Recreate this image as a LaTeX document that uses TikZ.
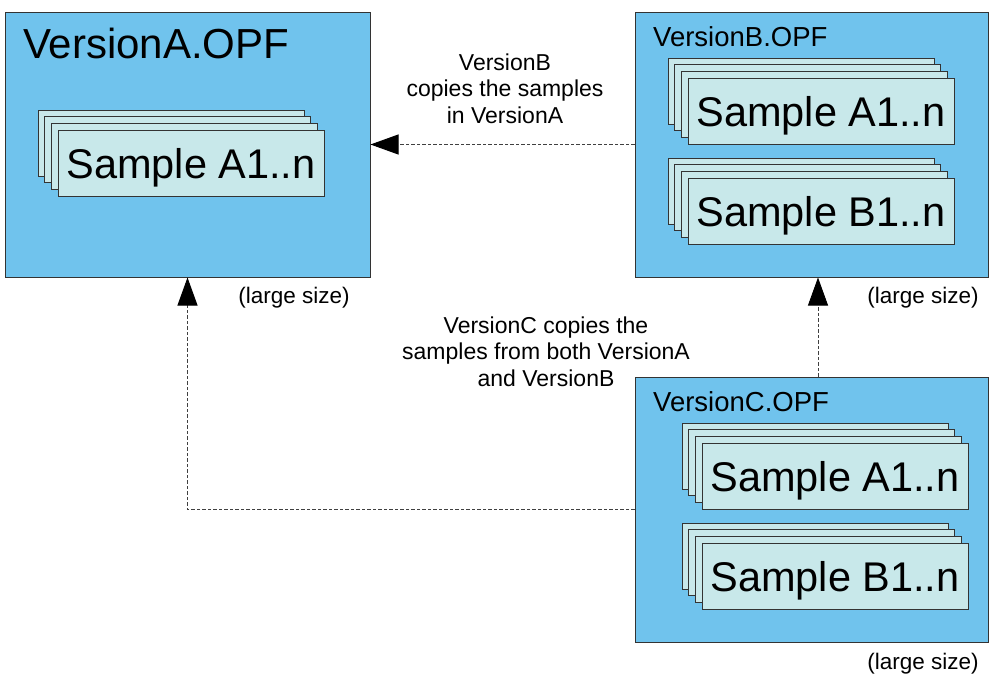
\documentclass[tikz,border=0pt]{standalone}
\usepackage{fontspec}
\setmainfont{Liberation Sans}
\usetikzlibrary{arrows.meta}
\definecolor{opfblue}{RGB}{112,195,237}
\definecolor{samplecyan}{RGB}{200,232,234}
\begin{document}
\begin{tikzpicture}[x=1pt,y=-1pt,
    opf/.style={draw=black!80,fill=opfblue,line width=1pt,minimum width=#1,minimum height=265pt,inner sep=0pt},
    card/.style={draw=black!80,fill=samplecyan,line width=0.8pt},
    samplecard/.style={card,minimum width=266pt,minimum height=66pt,inner sep=0pt,text depth=0pt,font=\fontsize{41.5}{41.5}\selectfont},
    note/.style={align=center,inner sep=0pt,font=\fontsize{23}{26.5}\selectfont},
    copy/.style={draw=black!75,dash pattern=on 3.5pt off 2pt,line width=0.9pt,-{Triangle[length=28pt,width=20pt,color=black]}}]
  \useasboundingbox (0,0) rectangle (989,675);
  % the three OPF files
  \node[opf=365pt] (verA) at (187.5,144.5) {};
  \node[opf=353pt] (verB) at (811.5,144.5) {};
  \node[opf=353pt] (verC) at (811.5,509.5) {};
  \node[anchor=base west,inner sep=0pt,font=\fontsize{42}{42}\selectfont] (titleA) at (23,58) {VersionA.OPF};
  \node[anchor=base west,inner sep=0pt,font=\fontsize{27.5}{27.5}\selectfont] (titleB) at (653,46) {VersionB.OPF};
  \node[anchor=base west,inner sep=0pt,font=\fontsize{27.5}{27.5}\selectfont] (titleC) at (653,411) {VersionC.OPF};
  % stacks of samples
  \foreach \name/\x/\y/\set in {sampAA/191/163/A, sampBA/821/111/A, sampBB/821/211/B, sampCA/835/476/A, sampCB/835/576/B}{
    \foreach \k in {3,2,1}
      \draw[card] (\x-133-\k*6.67,\y-33-\k*6.67) rectangle ++(266,66);
    \node[samplecard] (\name) at (\x,\y) {Sample \set1..n};
  }
  % copies
  \draw[copy] (verB) -- (verA);
  \draw[copy] ([xshift=6.5pt]verC.north) -- ([xshift=6.5pt]verB.south);
  \draw[copy] (verC.west) -| (verA.south);
  \node[note] (noteB) at (505,88.5) {VersionB\\copies the samples\\in VersionA};
  \node[note] (noteC) at (546,351.5) {VersionC copies the\\samples from both VersionA\\and VersionB};
  \node[note,font=\fontsize{22.5}{26}\selectfont] (sizeA) at (294,298) {(large size)};
  \node[note,font=\fontsize{22.5}{26}\selectfont] (sizeB) at (923,298) {(large size)};
  \node[note,font=\fontsize{22.5}{26}\selectfont] (sizeC) at (923,664) {(large size)};
\end{tikzpicture}
\end{document}
